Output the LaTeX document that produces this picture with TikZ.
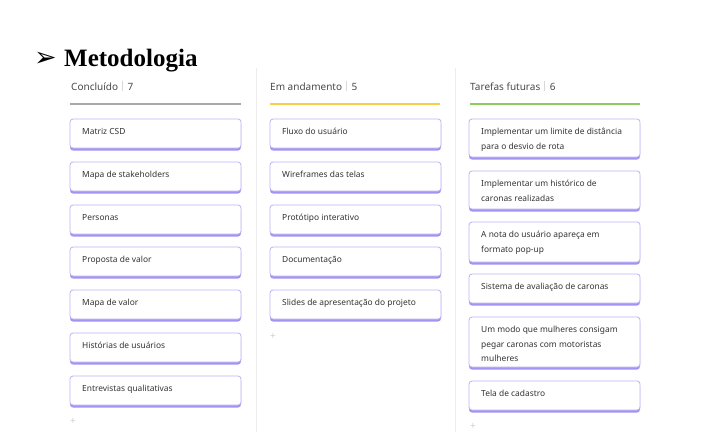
\documentclass[tikz,border=0pt]{standalone}
\usepackage{fontspec}
\setmainfont{Noto Sans}
\newfontfamily\titlefont{Liberation Serif}
\newfontfamily\symfont{DejaVu Sans}
\definecolor{cardborder}{HTML}{BDB3F5}
\definecolor{cardshadow}{HTML}{A294F0}
\definecolor{sepline}{HTML}{EDEDF0}
\definecolor{hdrtext}{HTML}{4A4A4A}
\definecolor{cardtext}{HTML}{333333}
\definecolor{barcol}{HTML}{D8D8D8}
\definecolor{grayline}{HTML}{A8A8A8}
\definecolor{yellowline}{HTML}{F5D046}
\definecolor{greenline}{HTML}{8CCB5E}
\definecolor{plusgray}{HTML}{D0D0D0}
\tikzset{
  cardtxt/.style={anchor=north west, inner sep=0pt, font=\fontsize{8.4}{14.5}\selectfont, text=cardtext, align=left},
  hdr/.style={anchor=west, inner sep=0pt, font=\fontsize{10}{12}\selectfont, text=hdrtext},
  plusmark/.style={anchor=center, inner sep=0pt, font=\fontsize{10}{10}\selectfont, text=plusgray}
}
\newcommand{\card}[5]{% name, x, ytop, height, text
  \fill[cardshadow, rounded corners=3pt] (#2,#3+2.5) rectangle (#2+171,#3+#4+2.5);
  \filldraw[fill=white, draw=cardborder, line width=0.8pt, rounded corners=3pt] (#2,#3) rectangle (#2+171,#3+#4);
  \node[cardtxt] (#1) at (#2+12,#3+9) {#5};
}
\newcommand{\hdrsep}{\hspace{4pt}{\color{barcol}\rule[-1pt]{0.6pt}{10pt}}\hspace{5pt}}
\begin{document}
\begin{tikzpicture}[x=1pt,y=-1pt]
\useasboundingbox[fill=white] (0,0) rectangle (714,432);
% title
\node[anchor=base west, inner sep=0pt] (tarrow) at (34,66) {\symfont\fontsize{27}{27}\selectfont ➢};
\node[anchor=base west, inner sep=0pt] (title) at (64,66) {\titlefont\bfseries\fontsize{25}{25}\selectfont Metodologia};
% separators
\draw[sepline, line width=1pt] (256,68) -- (256,432);
\draw[sepline, line width=1pt] (455,68) -- (455,432);
% headers
\node[hdr] (h1) at (71,86) {Concluído\hdrsep 7};
\node[hdr] (h2) at (270,86) {Em andamento\hdrsep 5};
\node[hdr] (h3) at (470,86) {Tarefas futuras\hdrsep 6};
\draw[grayline, line width=1.2pt] (70,104) -- (241,104);
\draw[yellowline, line width=1.2pt] (270,104) -- (440,104);
\draw[greenline, line width=1.2pt] (470,104) -- (640,104);
% column 1
\card{a1}{70}{119}{29}{Matriz CSD}
\card{a2}{70}{162}{29}{Mapa de stakeholders}
\card{a3}{70}{205}{29}{Personas}
\card{a4}{70}{247}{29}{Proposta de valor}
\card{a5}{70}{290}{29}{Mapa de valor}
\card{a6}{70}{333}{29}{Histórias de usuários}
\card{a7}{70}{376}{29}{Entrevistas qualitativas}
\node[plusmark] (p1) at (73,422) {+};
% column 2
\card{b1}{270}{119}{29}{Fluxo do usuário}
\card{b2}{270}{162}{29}{Wireframes das telas}
\card{b3}{270}{205}{29}{Protótipo interativo}
\card{b4}{270}{247}{29}{Documentação}
\card{b5}{270}{290}{29}{Slides de apresentação do projeto}
\node[plusmark] (p2) at (273,337) {+};
% column 3
\card{c1}{469}{119}{38}{Implementar um limite de distância\\para o desvio de rota}
\card{c2}{469}{171}{38}{Implementar um histórico de\\caronas realizadas}
\card{c3}{469}{222}{40}{A nota do usuário apareça em\\formato pop-up}
\card{c4}{469}{274}{29}{Sistema de avaliação de caronas}
\card{c5}{469}{317}{50}{Um modo que mulheres consigam\\pegar caronas com motoristas\\mulheres}
\card{c6}{469}{381}{29}{Tela de cadastro}
\node[plusmark] (p3) at (473,427) {+};
\end{tikzpicture}
\end{document}
